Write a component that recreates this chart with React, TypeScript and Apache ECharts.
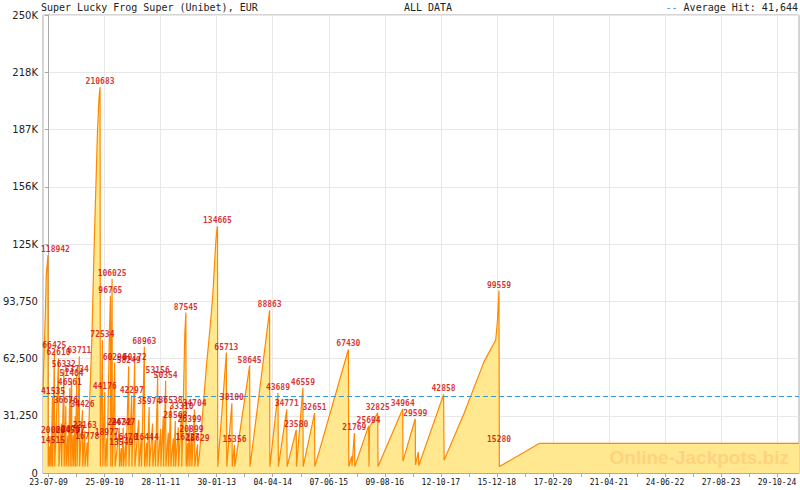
import React, { useEffect, useRef } from 'react';
import * as echarts from 'echarts';

// Day offsets are counted from 2009-07-23 (the first x tick label)
const BASE_DATE = Date.UTC(2009, 6, 23);
const MS_DAY = 86400000;

const chartTitle = 'Super Lucky Frog Super (Unibet), EUR';
const rangeTitle = 'ALL DATA';
const averageHit = 41644;
const watermark = 'Online-Jackpots.biz';

// jackpot level over time: day offset / amount (EUR)
const jackpotDays = [
  -43, -24, -18, -5, -3, 6, 8, 18, 20, 29, 31, 44, 47, 76, 79, 98, 100, 117, 119, 132, 134,
  147, 150, 163, 165, 176, 178, 189, 192, 203, 205, 216, 218, 235, 237, 259, 261, 277, 279,
  296, 299, 315, 331, 348, 361, 374, 386, 394, 396, 412, 415, 430, 432, 445, 447, 464, 473,
  476, 486, 488, 506, 509, 541, 543, 556, 558, 571, 573, 590, 592, 613, 615, 636, 638, 659,
  661, 690, 692, 709, 711, 733, 735, 751, 753, 770, 772, 796, 798, 816, 818, 835, 837, 858,
  860, 878, 880, 896, 898, 916, 918, 934, 936, 955, 957, 970, 972, 993, 995, 1018, 1020,
  1043, 1051, 1053, 1064, 1066, 1079, 1081, 1094, 1097, 1117, 1119, 1140, 1142, 1155, 1182,
  1209, 1237, 1257, 1278, 1285, 1293, 1295, 1361, 1364, 1403, 1406, 1423, 1425, 1539, 1542,
  1692, 1694, 1756, 1759, 1823, 1826, 1896, 1898, 1947, 1949, 2036, 2038, 2295, 2298, 2320,
  2323, 2341, 2344, 2450, 2453, 2457, 2520, 2522, 2711, 2713, 2807, 2809, 2831, 2834, 3024,
  3028, 3181, 3334, 3423, 3436, 3448, 3451, 3759, 5745,
];
const jackpotValues = [
  45000, 89000, 108000, 118942, 3500, 14515, 3500, 20060, 3500, 41535, 3500, 66425, 3500,
  62610, 3500, 27000, 3500, 56332, 3500, 36676, 3500, 20459, 3500, 46561, 3500, 51404, 3500,
  20757, 3500, 31000, 3500, 53734, 3500, 63711, 3500, 34426, 3500, 23163, 3500, 16778, 3500,
  41000, 72600, 122000, 154000, 186000, 205000, 210683, 3500, 72534, 3500, 44176, 3500,
  18977, 3500, 70000, 96765, 3500, 106025, 3500, 60290, 3500, 24632, 3500, 13549, 3500,
  24747, 3500, 16470, 3500, 58249, 3500, 42297, 3500, 60172, 3500, 29000, 3500, 19000, 3500,
  68963, 3500, 16444, 3500, 35974, 3500, 27000, 3500, 18000, 3500, 53156, 3500, 24000, 3500,
  31000, 3500, 50354, 3500, 22000, 3500, 36538, 3500, 19000, 3500, 28568, 3500, 25000, 3500,
  33310, 3500, 76400, 87545, 3500, 16227, 3500, 26399, 3500, 20899, 3500, 34704, 3500, 15629,
  3500, 10000, 35000, 59000, 80000, 97000, 123600, 131000, 134665, 3500, 65713, 3500, 38100,
  3500, 15356, 3500, 58645, 3500, 88863, 3500, 43689, 3500, 34771, 3500, 23580, 3500, 46559,
  3500, 32651, 3500, 67430, 3500, 9000, 4000, 21769, 3500, 25694, 3500, 25000, 32825, 3500,
  34964, 6500, 29599, 4500, 11500, 4000, 42858, 7000, 32600, 60800, 72600, 82600, 99559, 3500,
  16200, 16200,
];

// labelled hits
const hitDays = [
  -5, 6, 18, 29, 44, 76, 117, 132, 147, 163, 176, 189, 216, 235, 259, 277, 296, 394, 412,
  430, 445, 473, 486, 506, 541, 556, 571, 590, 613, 636, 659, 733, 751, 770, 835, 896, 934,
  970, 1018, 1051, 1064, 1079, 1094, 1117, 1140, 1293, 1361, 1403, 1423, 1539, 1692, 1756,
  1823, 1896, 1947, 2036, 2295, 2341, 2450, 2520, 2711, 2807, 3024, 3448, 3449,
];
const hitValues = [
  118942, 14515, 20060, 41535, 66425, 62610, 56332, 36676, 20459, 46561, 51404, 20757, 53734,
  63711, 34426, 23163, 16778, 210683, 72534, 44176, 18977, 96765, 106025, 60290, 24632, 13549,
  24747, 16470, 58249, 42297, 60172, 68963, 16444, 35974, 53156, 50354, 36538, 28568, 33310,
  87545, 16227, 26399, 20899, 34704, 15629, 134665, 65713, 38100, 15356, 58645, 88863, 43689,
  34771, 23580, 46559, 32651, 67430, 21769, 25694, 32825, 34964, 29599, 42858, 99559, 15280,
];

// x tick positions (days)
const xLabelDays = [0, 429, 858, 1287, 1716, 2145, 2574, 3003, 3432, 3861, 4290, 4719, 5148, 5577];
const xMinorDays = [214.5, 643.5, 1072.5, 1501.5, 1930.5, 2359.5, 2788.5, 3217.5, 3646.5, 4075.5, 4504.5, 4933.5, 5362.5];
const xMin = -43;
const xMax = 5745;
const yMax = 250000;
const yStep = 31250;

const pad = (n: number) => String(n).padStart(2, '0');
const fmtDay = (d: number) => {
  const dt = new Date(BASE_DATE + Math.round(d) * MS_DAY);
  return `${pad(dt.getUTCDate())}-${pad(dt.getUTCMonth() + 1)}-${pad(dt.getUTCFullYear() % 100)}`;
};
const fmtY = (v: number) =>
  v === 0 ? '0' : v >= 100000 ? `${Math.floor(v / 1000)}K` : v.toLocaleString('en-US');

export default function App() {
  const ref = useRef<HTMLDivElement>(null);
  useEffect(() => {
    if (!ref.current) return;
    const chart = echarts.init(ref.current, undefined, { renderer: 'svg' });
    const lineData = jackpotDays.map((d, i) => [d, jackpotValues[i]]);
    const hitData = hitDays.map((d, i) => [d, hitValues[i]]);
    const gridLeft = 41;
    chart.setOption({
      animation: false,
      backgroundColor: '#ffffff',
      grid: {
        left: gridLeft, right: 1, top: 15, bottom: 17,
        show: true, borderColor: '#aaaaaa', borderWidth: 1,
      },
      xAxis: [
        {
          type: 'value', min: xMin, max: xMax,
          axisLine: { show: true, onZero: false, lineStyle: { color: '#aaaaaa' } },
          axisTick: { show: true, length: 4, lineStyle: { color: '#aaaaaa' }, customValues: xLabelDays },
          axisLabel: {
            customValues: xLabelDays, formatter: fmtDay,
            fontFamily: 'DejaVu Sans Mono', fontSize: 8, color: '#111111', margin: 5,
          },
          splitLine: { show: true, lineStyle: { color: '#e8e8e8' } },
        },
        {
          type: 'value', min: xMin, max: xMax, position: 'bottom',
          axisLine: { show: false },
          axisLabel: { show: false },
          splitLine: { show: false },
          axisTick: { show: true, length: 4, lineStyle: { color: '#aaaaaa' }, customValues: xMinorDays },
        },
      ],
      yAxis: {
        type: 'value', min: 0, max: yMax, interval: yStep,
        axisLine: { show: true, lineStyle: { color: '#aaaaaa' } },
        axisTick: { show: true, length: 4, lineStyle: { color: '#aaaaaa' } },
        axisLabel: { formatter: fmtY, fontFamily: 'DejaVu Sans', fontSize: 10, color: '#222222', margin: 5 },
        splitLine: { show: true, lineStyle: { color: '#e8e8e8' } },
      },
      series: [
        {
          type: 'line', data: lineData, showSymbol: false, symbol: 'none', silent: true,
          lineStyle: { color: '#ff8800', width: 1.2 },
          areaStyle: { color: '#ffe890', opacity: 1 },
          markLine: {
            silent: true, symbol: ['none', 'none'], label: { show: false },
            lineStyle: { color: '#3399dd', type: [5, 3], width: 1 },
            data: [{ yAxis: averageHit }],
          },
        },
        {
          type: 'scatter', data: hitData, symbolSize: 1, silent: true, z: 5,
          itemStyle: { color: 'rgba(0,0,0,0)' },
          label: {
            show: true, position: 'top', distance: 1,
            formatter: (p: any) => String(p.value[1]),
            fontFamily: 'DejaVu Sans Mono', fontSize: 8, fontWeight: 'bold', color: '#cc0000',
          },
          labelLayout: (p: any) => (p.labelRect.x < gridLeft ? { dx: gridLeft - p.labelRect.x } : {}),
        },
      ],
      graphic: [
        {
          type: 'text', x: 41, y: 7, z: 100,
          style: { text: chartTitle, fill: '#222222', font: '10px "DejaVu Sans Mono"', align: 'left', verticalAlign: 'middle' },
        },
        {
          type: 'text', x: 428, y: 7, z: 100,
          style: { text: rangeTitle, fill: '#222222', font: '10px "DejaVu Sans Mono"', align: 'center', verticalAlign: 'middle' },
        },
        {
          type: 'text', x: 798, y: 7, z: 100,
          style: {
            text: `{b|--} Average Hit: ${averageHit.toLocaleString('en-US')}`,
            fill: '#222222', font: '10px "DejaVu Sans Mono"', align: 'right', verticalAlign: 'middle',
            rich: { b: { fill: '#3399dd', font: '10px "DejaVu Sans Mono"' } },
          },
        },
        {
          type: 'text', x: 789, y: 457, z: 100,
          style: { text: watermark, fill: '#ffd27e', font: 'bold 19px "Liberation Sans"', align: 'right', verticalAlign: 'middle' },
        },
      ],
    });
    return () => chart.dispose();
  }, []);
  return <div ref={ref} style={{ position: 'fixed', left: 0, top: 0, width: 800, height: 490 }} />;
}
